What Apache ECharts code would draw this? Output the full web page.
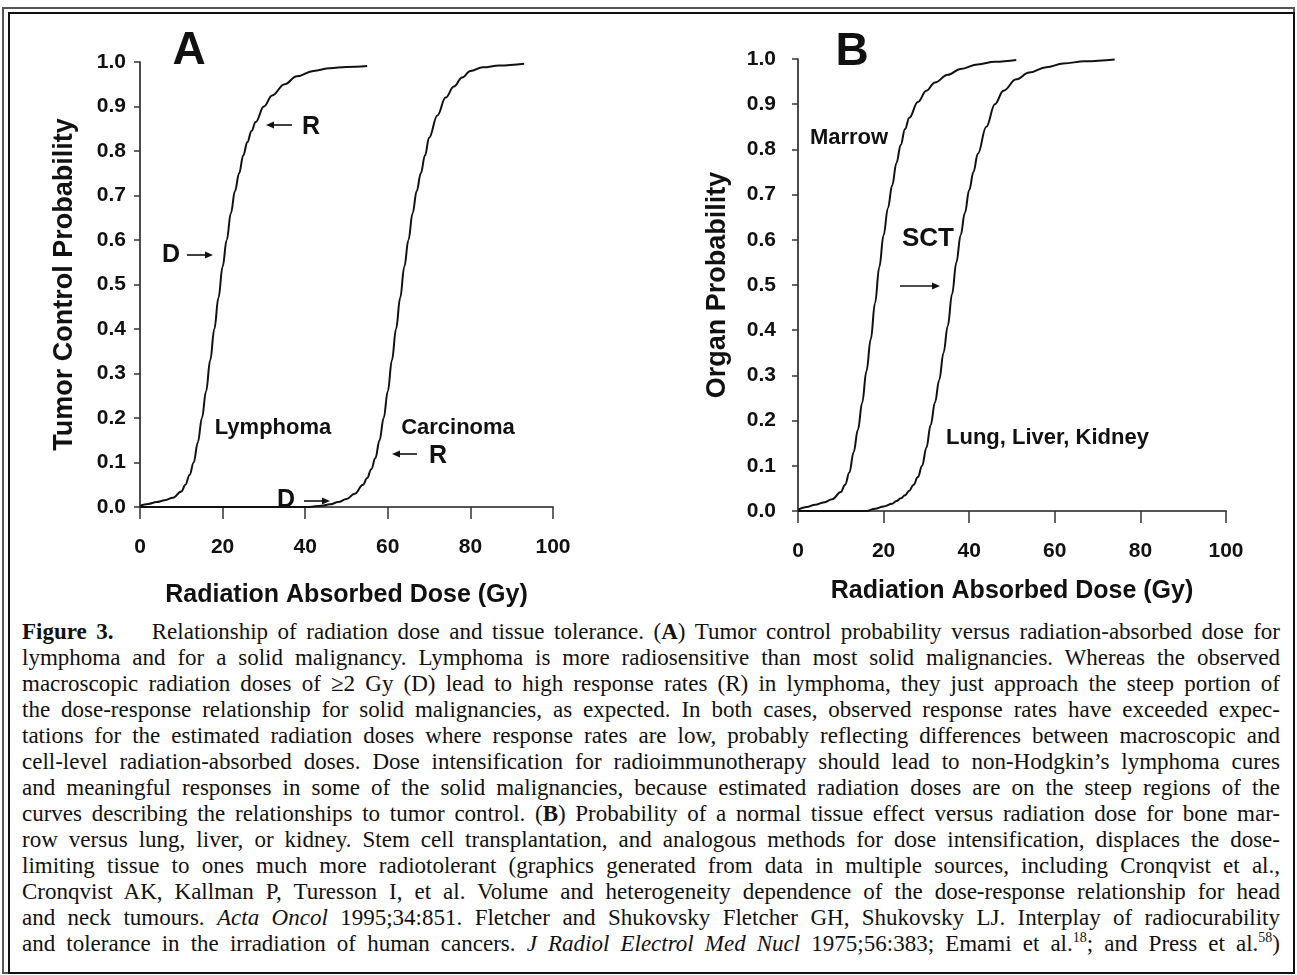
<!DOCTYPE html>
<html>
<head>
<meta charset="utf-8">
<title>Figure 3</title>
<script src="https://cdn.jsdelivr.net/npm/echarts/dist/echarts.min.js"></script>
<style>
  html, body { margin: 0; padding: 0; background: #fff; }
  #page { position: relative; width: 1297px; height: 975px; overflow: hidden; }
  #frameOuter { position: absolute; left: 2px; top: 7px; width: 1289px; height: 963px; border: 2px solid #555; }
  #frameInner { position: absolute; left: 8px; top: 12px; width: 1283px; height: 958px; border: 2px solid #111; }
  #chart { position: absolute; left: 0; top: 0; width: 1297px; height: 615px; }
  #caption { position: absolute; left: 22px; top: 619px; width: 1258px;
    font-family: "Liberation Serif", "DejaVu Serif", serif; font-size: 23px; line-height: 26px; color: #111; }
  #caption div { white-space: nowrap; }
  #caption.fitted div { white-space: normal; text-align: justify; text-align-last: justify; }
  #caption sup { font-size: 14px; line-height: 0; }
</style>
</head>
<body>
<div id="page">
  <div id="frameOuter"></div>
  <div id="frameInner"></div>
  <div id="chart"></div>
  <div id="caption">
    <div><span><b>Figure 3.</b>&nbsp;&nbsp;&nbsp; Relationship of radiation dose and tissue tolerance. (<b>A</b>) Tumor control probability versus radiation-absorbed dose for</span></div>
    <div><span>lymphoma and for a solid malignancy. Lymphoma is more radiosensitive than most solid malignancies. Whereas the observed</span></div>
    <div><span>macroscopic radiation doses of ≥2 Gy (D) lead to high response rates (R) in lymphoma, they just approach the steep portion of</span></div>
    <div><span>the dose-response relationship for solid malignancies, as expected. In both cases, observed response rates have exceeded expec-</span></div>
    <div><span>tations for the estimated radiation doses where response rates are low, probably reflecting differences between macroscopic and</span></div>
    <div><span>cell-level radiation-absorbed doses. Dose intensification for radioimmunotherapy should lead to non-Hodgkin’s lymphoma cures</span></div>
    <div><span>and meaningful responses in some of the solid malignancies, because estimated radiation doses are on the steep regions of the</span></div>
    <div><span>curves describing the relationships to tumor control. (<b>B</b>) Probability of a normal tissue effect versus radiation dose for bone mar-</span></div>
    <div><span>row versus lung, liver, or kidney. Stem cell transplantation, and analogous methods for dose intensification, displaces the dose-</span></div>
    <div><span>limiting tissue to ones much more radiotolerant (graphics generated from data in multiple sources, including Cronqvist et al.,</span></div>
    <div><span>Cronqvist AK, Kallman P, Turesson I, et al. Volume and heterogeneity dependence of the dose-response relationship for head</span></div>
    <div><span>and neck tumours. <i>Acta Oncol</i> 1995;34:851. Fletcher and Shukovsky Fletcher GH, Shukovsky LJ. Interplay of radiocurability</span></div>
    <div><span>and tolerance in the irradiation of human cancers. <i>J Radiol Electrol Med Nucl</i> 1975;56:383; Emami et al.<sup>18</sup>; and Press et al.<sup>58</sup>)</span></div>
  </div>
</div>
<script>
// panel A: tumor control probability
var doseLymphoma = [0, 2, 4, 6, 8, 10, 11, 12, 13, 14, 15, 16, 17, 18, 19, 20, 21, 22, 23, 24, 25, 26, 27, 28, 30, 32, 35, 38, 42, 46, 50, 55];
var probLymphoma = [0.003, 0.007, 0.011, 0.015, 0.021, 0.035, 0.05, 0.072, 0.1, 0.145, 0.2, 0.26, 0.33, 0.4, 0.47, 0.54, 0.6, 0.66, 0.71, 0.75, 0.79, 0.82, 0.845, 0.865, 0.9, 0.925, 0.95, 0.968, 0.98, 0.986, 0.989, 0.991];
var doseCarcinoma = [0, 41, 44, 46, 48, 50, 52, 54, 55, 56, 57, 58, 59, 60, 61, 62, 63, 64, 65, 66, 67, 68, 69, 70, 72, 74, 76, 78, 80, 83, 87, 93];
var probCarcinoma = [0, 0, 0.003, 0.006, 0.011, 0.018, 0.03, 0.05, 0.065, 0.085, 0.11, 0.15, 0.2, 0.26, 0.33, 0.4, 0.47, 0.54, 0.6, 0.66, 0.71, 0.75, 0.79, 0.83, 0.88, 0.92, 0.945, 0.965, 0.98, 0.988, 0.992, 0.996];

// panel B: organ (normal tissue) probability
var doseMarrow = [0, 2, 4, 6, 8, 10, 11, 12, 13, 14, 15, 16, 17, 18, 19, 20, 21, 22, 23, 24, 25, 26, 28, 30, 32, 35, 38, 42, 46, 51];
var probMarrow = [0.003, 0.009, 0.014, 0.019, 0.026, 0.042, 0.058, 0.085, 0.13, 0.18, 0.24, 0.31, 0.38, 0.46, 0.54, 0.61, 0.67, 0.72, 0.77, 0.81, 0.845, 0.87, 0.905, 0.93, 0.948, 0.965, 0.978, 0.988, 0.994, 0.998];
var doseLung = [0, 16, 18, 20, 22, 23, 24, 25, 26, 27, 28, 29, 30, 31, 32, 33, 34, 35, 36, 37, 38, 39, 40, 41, 42, 44, 46, 48, 51, 54, 58, 62, 67, 74];
var probLung = [0, 0, 0.005, 0.01, 0.016, 0.022, 0.028, 0.035, 0.045, 0.058, 0.075, 0.1, 0.14, 0.19, 0.24, 0.29, 0.35, 0.41, 0.48, 0.55, 0.61, 0.66, 0.71, 0.75, 0.79, 0.85, 0.9, 0.93, 0.955, 0.97, 0.982, 0.99, 0.995, 0.999];

var doseTicks = [0, 20, 40, 60, 80, 100];
var probTicks = [0, 0.1, 0.2, 0.3, 0.4, 0.5, 0.6, 0.7, 0.8, 0.9, 1.0];

var FONT = '"Liberation Sans", Arial, sans-serif';
var INK = '#111';

// squeeze caption lines that are too long, then justify them
(function fitCaption() {
    var cap = document.getElementById('caption');
    var W = cap.clientWidth;
    var lines = cap.querySelectorAll('div');
    for (var i = 0; i < lines.length; i++) {
        var span = lines[i].firstElementChild;
        var w = span.getBoundingClientRect().width;
        if (w > W - 2) {
            var n = span.textContent.length;
            lines[i].style.letterSpacing = (-(w - W + 4) / n).toFixed(3) + 'px';
        }
    }
    cap.className = 'fitted';
})();

function zip(xs, ys) {
    return xs.map(function (x, i) { return [x, ys[i]]; });
}

function xAxisCfg(gridIndex, nameGap) {
    return {
        type: 'value', gridIndex: gridIndex,
        min: doseTicks[0], max: doseTicks[doseTicks.length - 1], interval: doseTicks[1] - doseTicks[0],
        name: 'Radiation Absorbed Dose (Gy)', nameLocation: 'middle', nameGap: nameGap,
        nameTextStyle: {fontFamily: FONT, fontWeight: 'bold', fontSize: 25, color: INK},
        axisLine: {lineStyle: {color: '#555', width: 2}},
        axisTick: {length: 12, lineStyle: {color: '#333', width: 1.5}},
        axisLabel: {fontFamily: FONT, fontWeight: 'bold', fontSize: 21, color: INK, margin: 30},
        splitLine: {show: false}
    };
}

function yAxisCfg(gridIndex, name, nameGap, labelMargin) {
    return {
        type: 'value', gridIndex: gridIndex,
        min: probTicks[0], max: probTicks[probTicks.length - 1], interval: 0.1,
        name: name, nameLocation: 'middle', nameGap: nameGap,
        nameTextStyle: {fontFamily: FONT, fontWeight: 'bold', fontSize: 27, color: INK},
        axisLine: {lineStyle: {color: INK, width: 1.5}},
        axisTick: {length: 6, lineStyle: {color: '#333', width: 1.5}},
        axisLabel: {fontFamily: FONT, fontWeight: 'bold', fontSize: 21, color: INK, margin: labelMargin,
            formatter: function (v) { return v.toFixed(1); }},
        splitLine: {show: false}
    };
}

function curve(name, xs, ys, idx) {
    return {
        name: name, type: 'line', xAxisIndex: idx, yAxisIndex: idx,
        data: zip(xs, ys), showSymbol: false, symbol: 'none',
        smooth: 0.4, smoothMonotone: 'x',
        lineStyle: {color: INK, width: 2}, silent: true, animation: false
    };
}

function label(text, x, y, size, align) {
    return {
        type: 'text', x: x, y: y, silent: true,
        style: {text: text, font: 'bold ' + size + 'px ' + FONT, fill: INK,
            textAlign: align || 'center', textVerticalAlign: 'middle'}
    };
}

// thin arrow with a small head at (x2, y2)
function arrow(x1, y1, x2, y2) {
    var dir = x2 > x1 ? 1 : -1;
    return {
        type: 'group', silent: true,
        children: [
            {type: 'line', shape: {x1: x1, y1: y1, x2: x2 - dir * 5, y2: y2}, style: {stroke: INK, lineWidth: 1.6}},
            {type: 'polygon', shape: {points: [[x2, y2], [x2 - dir * 8, y2 - 3.5], [x2 - dir * 8, y2 + 3.5]]}, style: {fill: INK}}
        ]
    };
}

var chart = echarts.init(document.getElementById('chart'), null, {renderer: 'canvas'});

chart.setOption({
    backgroundColor: 'transparent',
    animation: false,
    grid: [
        {left: 140, top: 62, width: 413, height: 445},
        {left: 798, top: 59, width: 428, height: 452}
    ],
    xAxis: [xAxisCfg(0, 76), xAxisCfg(1, 68)],
    yAxis: [
        yAxisCfg(0, 'Tumor Control Probability', 62, 14),
        yAxisCfg(1, 'Organ Probability', 67, 22)
    ],
    series: [
        curve('Lymphoma', doseLymphoma, probLymphoma, 0),
        curve('Carcinoma', doseCarcinoma, probCarcinoma, 0),
        curve('Marrow', doseMarrow, probMarrow, 1),
        curve('Lung, Liver, Kidney', doseLung, probLung, 1)
    ],
    graphic: [
        label('A', 189, 51, 46),
        label('R', 311, 127, 25),
        arrow(292, 125, 266, 125),
        label('D', 171, 255, 25),
        arrow(187, 255, 213, 255),
        label('Lymphoma', 273, 428, 22),
        label('Carcinoma', 458, 428, 22),
        label('R', 438, 456, 25),
        arrow(417, 454, 392, 454),
        label('D', 286, 500, 25),
        arrow(304, 501, 330, 501),

        label('B', 852, 52, 46),
        label('Marrow', 849, 138, 22),
        label('SCT', 928, 239, 26),
        arrow(900, 286, 940, 286),
        label('Lung, Liver, Kidney', 946, 438, 22, 'left')
    ]
});
</script>
</body>
</html>
